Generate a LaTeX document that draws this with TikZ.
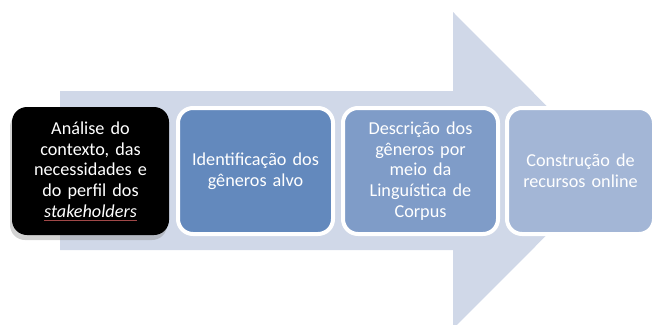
\documentclass[tikz,border=0pt]{standalone}
\usepackage{fontspec}
\setmainfont{Carlito}
\usetikzlibrary{shadows}
\definecolor{arrowgray}{HTML}{D0D8E8}
\definecolor{stepA}{HTML}{6389BD}
\definecolor{stepB}{HTML}{7F9CC8}
\definecolor{stepC}{HTML}{A3B6D6}
\definecolor{squigred}{HTML}{A04848}
\newsavebox{\squigbox}
\newcommand{\redline}[1]{\sbox{\squigbox}{#1}\leavevmode\rlap{\textcolor{squigred}{\rule[-2.8pt]{\wd\squigbox}{0.8pt}}}\usebox{\squigbox}}

\begin{document}
\begin{tikzpicture}[x=1pt,y=1pt,
  every node/.style={inner sep=0pt, text=white, align=center,
    font=\fontsize{18.2}{20.8}\selectfont},
  stage/.style={rounded corners=15pt, minimum height=126pt, text width=140pt},
  blockstage/.style={stage, fill=black, minimum width=157pt, minimum height=128pt,
    drop shadow={shadow xshift=-2pt, shadow yshift=-5pt, opacity=0.35}},
  bluestage/.style={stage, draw=white, line width=4pt}]
\useasboundingbox (0,0) rectangle (653,-324);
\fill [arrowgray] (60,-91) -- (453,-91) -- (453,-12) -- (611,-170.5) -- (453,-329) -- (453,-250) -- (60,-250) -- cycle;
\node [blockstage] (ctx) at (90.5,-171) {Análise do\\contexto, das\\necessidades e\\do perfil dos\\\redline{\itshape stakeholders}};
\node [bluestage, fill=stepA, minimum width=155pt] (gen) at (255.5,-171) {Identificação dos\\gêneros alvo};
\node [bluestage, fill=stepB, minimum width=155pt] (desc) at (420.5,-171) {Descrição dos\\gêneros por\\meio da\\Linguística de\\Corpus};
\node [bluestage, fill=stepC, minimum width=147pt] (rec) at (580.5,-171) {Construção de\\recursos online};
\end{tikzpicture}
\end{document}
